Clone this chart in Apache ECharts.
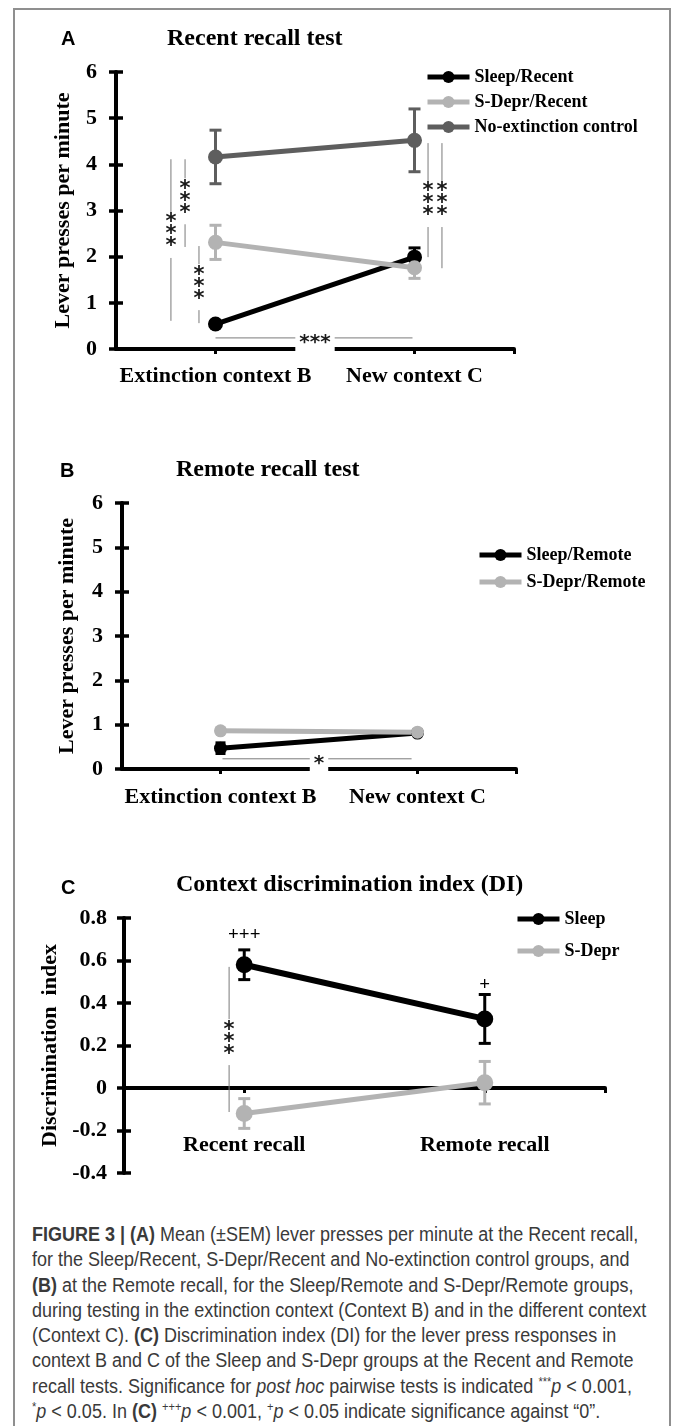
<!DOCTYPE html>
<html>
<head>
<meta charset="utf-8">
<script src="https://cdn.jsdelivr.net/npm/echarts@6/dist/echarts.min.js"></script>
<style>
html,body{margin:0;padding:0;background:#fff;}
#wrap{position:relative;width:673px;height:1426px;overflow:hidden;}
#frame{position:absolute;left:13px;top:8px;width:658px;height:1430px;border:2px solid #8f8f8f;box-sizing:border-box;}
#chart{position:absolute;left:0;top:0;width:673px;height:1220px;}
#caption{position:absolute;left:32px;top:1222px;display:inline-block;transform-origin:left top;
  font-family:'Liberation Sans',Arial,sans-serif;font-size:19.5px;line-height:25.3px;color:#3a3a3a;white-space:nowrap;}
#caption sup{font-size:12px;line-height:0;}
</style>
</head>
<body>
<div id="wrap">
 <div id="frame"></div>
 <div id="chart"></div>
 <div id="caption">
  <div><b>FIGURE 3 | (A)</b> Mean (±SEM) lever presses per minute at the Recent recall,</div>
  <div>for the Sleep/Recent, S-Depr/Recent and No-extinction control groups, and</div>
  <div><b>(B)</b> at the Remote recall, for the Sleep/Remote and S-Depr/Remote groups,</div>
  <div>during testing in the extinction context (Context B) and in the different context</div>
  <div>(Context C). <b>(C)</b> Discrimination index (DI) for the lever press responses in</div>
  <div>context B and C of the Sleep and S-Depr groups at the Recent and Remote</div>
  <div>recall tests. Significance for <i>post hoc</i> pairwise tests is indicated <sup>***</sup><i>p</i> &lt; 0.001,</div>
  <div><sup>*</sup><i>p</i> &lt; 0.05. In <b>(C)</b> <sup>+++</sup><i>p</i> &lt; 0.001, <sup>+</sup><i>p</i> &lt; 0.05 indicate significance against “0”.</div>
 </div>
</div>
<script>
const SERIF = "'Liberation Serif', 'Times New Roman', serif"
const STAR_FONT = "'DejaVu Sans', sans-serif"

const catsAB = ["Extinction context B", "New context C"]
const catsC = ["Recent recall", "Remote recall"]

// A - recent recall
const sleepRecent = [0.54, 1.99]
const sleepRecentErr = [0.05, 0.2]
const sdeprRecent = [2.31, 1.76]
const sdeprRecentErr = [0.37, 0.23]
const noExt = [4.16, 4.52]
const noExtErr = [0.58, 0.68]

// B - remote recall
const sleepRemote = [0.47, 0.81]
const sleepRemoteErr = [0.12, 0.05]
const sdeprRemote = [0.86, 0.83]
const sdeprRemoteErr = [0.05, 0.06]

// C - discrimination index
const sleepDI = [0.58, 0.325]
const sleepDIErr = [0.07, 0.115]
const sdeprDI = [-0.12, 0.025]
const sdeprDIErr = [0.07, 0.1]

// significance marks: [x, y1, y2, labelY, text]  (x in category units)
const sigVertA = [
    [0.276, 0.61, 4.11, 2.47, "***"],
    [0.347, 2.21, 4.11, 3.2, "***"],
    [0.417, 0.56, 2.23, 1.34, "***"],
    [1.568, 1.99, 4.46, 3.14, "***"],
    [1.638, 1.75, 4.46, 3.14, "***"]
]
// [x1, x2, y, labelX, text]
const sigHorzA = [[0.5, 1.49, 0.24, 1.0, "***"]]
const sigHorzB = [[0.51, 1.47, 0.23, 1.0, "*"]]
const sigVertC = [[0.437, -0.113, 0.57, 0.216, "***"]]
// [x, y, text]
const plusC = [[0.5, 0.72, "+++"], [1.5, 0.485, "+"]]

const BLACK = "#000000"
const LIGHT = "#b3b3b3"
const DARK = "#5e5e5e"

function pts(vals){
    return vals.map((v,i) => [i + 0.5, v])
}

function xAxes(g, cats, labelMargin){
    const tickVals = cats.map((c,i) => i + 0.5).concat([cats.length])
    const base = {type:"value", gridIndex:g, min:0, max:cats.length, splitLine:{show:false}}
    return [
        Object.assign({}, base, {
            axisLine:{show:true, onZero:true, lineStyle:{color:"#000", width:4}},
            axisTick:{show:true, customValues:tickVals, length:5, lineStyle:{color:"#000", width:3}},
            axisLabel:{show:labelMargin != null, customValues:cats.map((c,i) => i + 0.5), formatter:v => cats[Math.floor(v)],
                margin:labelMargin || 0, color:"#000", fontFamily:SERIF, fontWeight:"bold", fontSize:22}
        }),
        Object.assign({}, base, {
            axisLine:{show:true, onZero:true, lineStyle:{color:"#000", opacity:0}},
            axisTick:{show:true, inside:true, customValues:tickVals, length:5, lineStyle:{color:"#000", width:3}},
            axisLabel:{show:false}
        })
    ]
}

// label-only axis at the grid bottom (used when the axis line sits on zero)
function labelAxis(g, cats, margin){
    return {
        type:"value", gridIndex:g, min:0, max:cats.length, position:"bottom",
        axisLine:{show:false, onZero:false}, axisTick:{show:false}, splitLine:{show:false},
        axisLabel:{show:true, inside:true, customValues:cats.map((c,i) => i + 0.5), formatter:v => cats[Math.floor(v)],
            margin:margin, color:"#000", fontFamily:SERIF, fontWeight:"bold", fontSize:22}
    }
}

function yAxes(g, min, max, interval, name, nameGap, labelMargin){
    const base = {type:"value", gridIndex:g, min:min, max:max, interval:interval, position:"left", splitLine:{show:false}}
    return [
        Object.assign({}, base, {
            name:name, nameLocation:"middle", nameGap:nameGap,
            nameTextStyle:{color:"#000", fontFamily:SERIF, fontWeight:"bold", fontSize:22},
            axisLine:{show:true, lineStyle:{color:"#000", width:4}},
            axisTick:{show:true, length:7, lineStyle:{color:"#000", width:3.5}},
            axisLabel:{margin:labelMargin, color:"#000", fontFamily:SERIF, fontWeight:"bold", fontSize:22}
        }),
        Object.assign({}, base, {
            axisLine:{show:true, lineStyle:{color:"#000", opacity:0}},
            axisTick:{show:true, inside:true, length:7, lineStyle:{color:"#000", width:3.5}},
            axisLabel:{show:false}
        })
    ]
}

function lineSeries(g, name, vals, color, width, size){
    return {
        name:name, type:"line", xAxisIndex:2*g, yAxisIndex:2*g,
        data:pts(vals), symbol:"circle", symbolSize:size, showSymbol:true,
        lineStyle:{color:color, width:width}, itemStyle:{color:color},
        emphasis:{disabled:true}, z:3
    }
}

function errSeries(g, vals, errs, color, cap, lw){
    return {
        type:"custom", xAxisIndex:2*g, yAxisIndex:2*g, silent:true, z:3,
        data:vals.map((v,i) => [i + 0.5, v - errs[i], v + errs[i]]),
        encode:{x:0, y:[1,2]},
        renderItem:function(params, api){
            const x = api.value(0)
            const lo = api.coord([x, api.value(1)])
            const hi = api.coord([x, api.value(2)])
            const st = {stroke:color, lineWidth:lw}
            return {type:"group", children:[
                {type:"line", shape:{x1:lo[0], y1:lo[1], x2:hi[0], y2:hi[1]}, style:st},
                {type:"line", shape:{x1:lo[0]-cap, y1:lo[1], x2:lo[0]+cap, y2:lo[1]}, style:st},
                {type:"line", shape:{x1:hi[0]-cap, y1:hi[1], x2:hi[0]+cap, y2:hi[1]}, style:st}
            ]}
        }
    }
}

function sigVertSeries(g, list){
    return {
        type:"custom", xAxisIndex:2*g, yAxisIndex:2*g, silent:true, z:2,
        data:list.map(d => [d[0], d[1], d[2], d[3]]),
        encode:{x:0, y:[1,2]},
        renderItem:function(params, api){
            const d = list[params.dataIndex]
            const a = api.coord([d[0], d[1]])
            const b = api.coord([d[0], d[2]])
            const m = api.coord([d[0], d[3]])
            return {type:"group", children:[
                {type:"line", shape:{x1:a[0], y1:a[1], x2:b[0], y2:b[1]}, style:{stroke:"#7a7a7a", lineWidth:1}},
                {type:"text", x:m[0], y:m[1], style:{text:d[4].split("").join("\n"), fill:"#1a1a1a",
                    font:"bold 21px " + STAR_FONT, align:"center", verticalAlign:"middle", lineHeight:12,
                    backgroundColor:"#fff", padding:[2,1,8,1]}}
            ]}
        }
    }
}

function sigHorzSeries(g, list){
    return {
        type:"custom", xAxisIndex:2*g, yAxisIndex:2*g, silent:true, z:2,
        data:list.map(d => [d[0], d[1], d[2], d[3]]),
        encode:{x:[0,1], y:2},
        renderItem:function(params, api){
            const d = list[params.dataIndex]
            const a = api.coord([d[0], d[2]])
            const b = api.coord([d[1], d[2]])
            const m = api.coord([d[3], d[2]])
            return {type:"group", children:[
                {type:"line", shape:{x1:a[0], y1:a[1], x2:b[0], y2:b[1]}, style:{stroke:"#7a7a7a", lineWidth:1}},
                {type:"text", x:m[0], y:m[1] + 5, style:{text:d[4], fill:"#1a1a1a",
                    font:"bold 20px " + STAR_FONT, align:"center", verticalAlign:"middle",
                    backgroundColor:"#fff", padding:[0,4,0,4]}}
            ]}
        }
    }
}

function plusSeries(g, list){
    return {
        type:"custom", xAxisIndex:2*g, yAxisIndex:2*g, silent:true, z:4,
        data:list.map(d => [d[0], d[1]]),
        encode:{x:0, y:1},
        renderItem:function(params, api){
            const d = list[params.dataIndex]
            const p = api.coord([d[0], d[1]])
            return {type:"text", x:p[0], y:p[1], style:{text:d[2], fill:"#000",
                font:"bold 19px " + SERIF, align:"center", verticalAlign:"middle"}}
        }
    }
}

function legendFor(names, left, top, gap){
    return {
        orient:"vertical", left:left, top:top, padding:0, itemGap:gap,
        itemWidth:42, itemHeight:15, selectedMode:false, data:names,
        lineStyle:{width:5},
        textStyle:{color:"#000", fontFamily:SERIF, fontWeight:"bold", fontSize:18}
    }
}

const titleFont = {color:"#000", fontFamily:SERIF, fontWeight:"bold", fontSize:24}
const letterFont = {color:"#000", fontFamily:"'Liberation Sans', Arial, sans-serif", fontWeight:"bold", fontSize:20}

const option = {
    animation:false,
    backgroundColor:"transparent",
    title:[
        {text:"A", left:61, top:29, padding:0, textStyle:letterFont},
        {text:"Recent recall test", left:167, top:27, padding:0, textStyle:titleFont},
        {text:"B", left:60, top:461, padding:0, textStyle:letterFont},
        {text:"Remote recall test", left:176, top:458, padding:0, textStyle:titleFont},
        {text:"C", left:61, top:878, padding:0, textStyle:letterFont},
        {text:"Context discrimination index (DI)", left:176, top:873, padding:0, textStyle:titleFont}
    ],
    legend:[
        legendFor(["Sleep/Recent", "S-Depr/Recent", "No-extinction control"], 425, 68, 7),
        legendFor(["Sleep/Remote", "S-Depr/Remote"], 477, 546, 9),
        legendFor(["Sleep", "S-Depr"], 515, 910, 14)
    ],
    grid:[
        {left:116, top:72, width:398, height:277, outerBoundsMode:"none"},
        {left:122, top:503, width:394, height:266, outerBoundsMode:"none"},
        {left:124, top:918, width:481, height:255, outerBoundsMode:"none"}
    ],
    xAxis:[].concat(xAxes(0, catsAB, 16), xAxes(1, catsAB, 17), xAxes(2, catsC, null), [labelAxis(2, catsC, 17)]),
    yAxis:[].concat(
        yAxes(0, 0, 6, 1, "Lever presses per minute", 42, 19),
        yAxes(1, 0, 6, 1, "Lever presses per minute", 44, 19),
        yAxes(2, -0.4, 0.8, 0.2, "Discrimination  index", 56, 17)
    ),
    series:[
        sigVertSeries(0, sigVertA),
        sigHorzSeries(0, sigHorzA),
        errSeries(0, noExt, noExtErr, DARK, 6, 3),
        lineSeries(0, "No-extinction control", noExt, DARK, 5, 15),
        errSeries(0, sleepRecent, sleepRecentErr, BLACK, 6, 3),
        lineSeries(0, "Sleep/Recent", sleepRecent, BLACK, 5, 15),
        errSeries(0, sdeprRecent, sdeprRecentErr, LIGHT, 6, 3),
        lineSeries(0, "S-Depr/Recent", sdeprRecent, LIGHT, 5, 15),

        sigHorzSeries(1, sigHorzB),
        errSeries(1, sleepRemote, sleepRemoteErr, BLACK, 5, 3),
        lineSeries(1, "Sleep/Remote", sleepRemote, BLACK, 5, 13),
        errSeries(1, sdeprRemote, sdeprRemoteErr, LIGHT, 5, 3),
        lineSeries(1, "S-Depr/Remote", sdeprRemote, LIGHT, 5, 13),

        sigVertSeries(2, sigVertC),
        errSeries(2, sleepDI, sleepDIErr, BLACK, 6, 3),
        lineSeries(2, "Sleep", sleepDI, BLACK, 6, 17),
        errSeries(2, sdeprDI, sdeprDIErr, LIGHT, 6, 3),
        lineSeries(2, "S-Depr", sdeprDI, LIGHT, 5, 17),
        plusSeries(2, plusC)
    ]
}

const chart = echarts.init(document.getElementById("chart"), null, {renderer:"canvas"})
chart.setOption(option)

// the caption font in the figure is a condensed face; squeeze the text block to the same width
let cap = document.getElementById("caption")
let capScale = 614 / cap.offsetWidth
cap.style.transform = "scaleX(" + capScale + ")"
</script>
</body>
</html>
